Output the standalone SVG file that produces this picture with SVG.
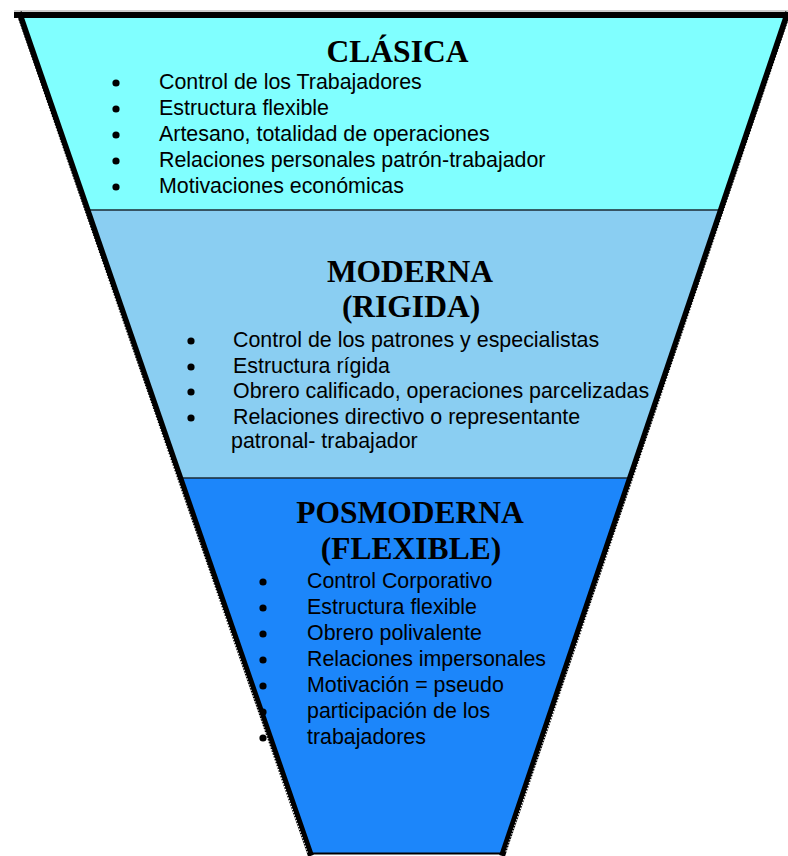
<svg xmlns="http://www.w3.org/2000/svg" width="788" height="856" viewBox="0 0 788 856">
  <style>
    .title { font-family: "Liberation Serif", "Times New Roman", serif; font-weight: bold; font-size: 31.5px; fill: #000; text-anchor: middle; }
    .item { font-family: "Liberation Sans", Arial, sans-serif; font-size: 21.4px; fill: #000; }
    .dot { fill: #000; }
    .edge { stroke: #000; stroke-width: 6; fill: none; stroke-linecap: square; }
    .edge-hi { stroke: #fff; stroke-width: 1.2; stroke-dasharray: 1.5 1.5; fill: none; }
    .band-line { stroke: #1a2a33; stroke-width: 1.5; }
  </style>

  <rect width="788" height="856" fill="#fff"/>

  <!-- funnel bands -->
  <g id="band-clasica">
    <polygon points="20,15 787,15 721,210 87.5,210" fill="#80FFFF"/>
  </g>
  <g id="band-moderna">
    <polygon points="87.5,210 721,210 630,478 180,478" fill="#8ACEF2"/>
  </g>
  <g id="band-posmoderna">
    <polygon points="180,478 630,478 503,853 310,853" fill="#1C86FA"/>
  </g>

  <!-- bullets hidden under the left edge -->
  <circle class="dot" cx="263" cy="712" r="3.6"/>
  <circle class="dot" cx="263" cy="738" r="3.6"/>

  <!-- outline -->
  <g id="connectors">
    <line class="band-line" x1="87.5" y1="210" x2="721" y2="210"/>
    <line class="band-line" x1="180" y1="478" x2="630" y2="478"/>
    <line x1="14" y1="11" x2="788" y2="11" stroke="#999" stroke-width="1"/>
    <line x1="14" y1="15" x2="788" y2="15" stroke="#000" stroke-width="6"/>
    <line class="edge" x1="20" y1="15" x2="310" y2="853"/>
    <line class="edge" x1="787" y1="15" x2="503" y2="853"/>
    <line class="edge-hi" x1="17.5" y1="18" x2="307.5" y2="853"/>
    <line class="edge-hi" x1="789.5" y1="18" x2="505.5" y2="853"/>
    <line x1="310" y1="853.5" x2="503" y2="853.5" stroke="#000" stroke-width="2"/>
  </g>

  <g id="node-clasica">
    <text class="title" x="397.5" y="62">CLÁSICA</text>
    <circle class="dot" cx="116" cy="83" r="3.6"/>
    <circle class="dot" cx="116" cy="109" r="3.6"/>
    <circle class="dot" cx="116" cy="135" r="3.6"/>
    <circle class="dot" cx="116" cy="161" r="3.6"/>
    <circle class="dot" cx="116" cy="187" r="3.6"/>
    <text class="item" x="159" y="89">Control de los Trabajadores</text>
    <text class="item" x="159" y="115">Estructura flexible</text>
    <text class="item" x="159" y="141">Artesano, totalidad de operaciones</text>
    <text class="item" x="159" y="167">Relaciones personales patrón-trabajador</text>
    <text class="item" x="159" y="193">Motivaciones económicas</text>
  </g>

  <g id="node-moderna">
    <text class="title" x="410" y="282">MODERNA</text>
    <text class="title" x="411" y="317">(RIGIDA)</text>
    <circle class="dot" cx="191" cy="341" r="3.6"/>
    <circle class="dot" cx="191" cy="367" r="3.6"/>
    <circle class="dot" cx="191" cy="392" r="3.6"/>
    <circle class="dot" cx="191" cy="418" r="3.6"/>
    <text class="item" x="233" y="347">Control de los patrones y especialistas</text>
    <text class="item" x="233" y="373">Estructura rígida</text>
    <text class="item" x="233" y="398">Obrero calificado, operaciones parcelizadas</text>
    <text class="item" x="233" y="424">Relaciones directivo o representante</text>
    <text class="item" x="231" y="448">patronal- trabajador</text>
  </g>

  <g id="node-posmoderna">
    <text class="title" x="410" y="523">POSMODERNA</text>
    <text class="title" x="411" y="559">(FLEXIBLE)</text>
    <circle class="dot" cx="263" cy="582" r="3.6"/>
    <circle class="dot" cx="263" cy="608" r="3.6"/>
    <circle class="dot" cx="263" cy="634" r="3.6"/>
    <circle class="dot" cx="263" cy="660" r="3.6"/>
    <circle class="dot" cx="263" cy="686" r="3.6"/>
    <text class="item" x="307" y="588">Control Corporativo</text>
    <text class="item" x="307" y="614">Estructura flexible</text>
    <text class="item" x="307" y="640">Obrero polivalente</text>
    <text class="item" x="307" y="666">Relaciones impersonales</text>
    <text class="item" x="307" y="692">Motivación = pseudo</text>
    <text class="item" x="307" y="718">participación de los</text>
    <text class="item" x="307" y="744">trabajadores</text>
  </g>
</svg>
